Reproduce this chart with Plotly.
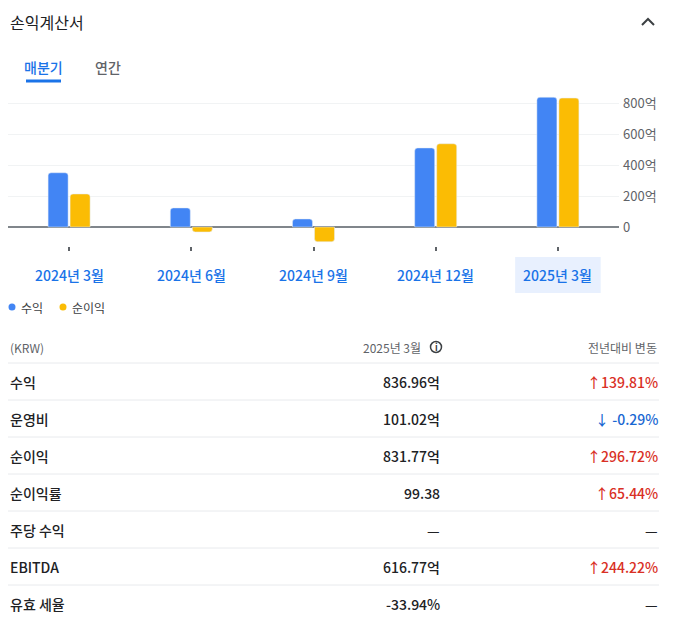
import plotly.graph_objects as go

# the page body keeps its default 8px margin, so the figure starts at (8, 8)
OFF = 8
W, H = 673 - OFF, 635 - OFF

# chart data (단위: 억)
periods = ["2024년 3월", "2024년 6월", "2024년 9월", "2024년 12월", "2025년 3월"]
revenue = [350, 123, 52, 510, 836.96]
net_income = [213, -32, -95, 537, 831.77]
y_ticks = [0, 200, 400, 600, 800]
y_tick_text = ["0", "200억", "400억", "600억", "800억"]

# table data
row_labels = ["수익", "운영비", "순이익", "순이익률", "주당 수익", "EBITDA", "유효 세율"]
row_values = ["836.96억", "101.02억", "831.77억", "99.38", "—", "616.77억", "-33.94%"]
row_changes = ["139.81%", "-0.29%", "296.72%", "65.44%", "—", "244.22%", "—"]
row_dirs = ["up", "down", "up", "up", None, "up", None]

BLUE = "#4285f4"
YELLOW = "#fbbc04"
LINK = "#1a73e8"
DARK = "#202124"
GREY = "#5f6368"
RED = "#d93025"
FONT = "Noto Sans CJK KR, Roboto, sans-serif"


# screen pixel -> paper fraction
def fx(px):
    return max(0.0, (px - OFF) / W)


def fy(py):
    return 1 - (py - OFF) / H


fig = go.Figure()
fig.add_trace(go.Bar(x=periods, y=revenue, name="수익",
                     marker=dict(color=BLUE, cornerradius=3)))
fig.add_trace(go.Bar(x=periods, y=net_income, name="순이익",
                     marker=dict(color=YELLOW, cornerradius=3)))

fig.update_layout(
    width=W, height=H,
    margin=dict(l=0, r=0, t=0, b=0),
    paper_bgcolor="white", plot_bgcolor="white",
    font=dict(family=FONT, color=DARK),
    barmode="group", bargap=0.64, bargroupgap=0.09,
    showlegend=False,
)
fig.update_xaxes(
    type="category", range=[-0.5, 4.5], domain=[fx(8), fx(619)],
    showgrid=False, showline=False, zeroline=False,
    ticks="outside", ticklen=4, tickwidth=1.5, tickcolor=GREY,
    showticklabels=False, automargin=False,
)
fig.update_yaxes(
    side="right", domain=[fy(246), fy(95)], range=[-122.6, 851.6],
    tickvals=y_ticks, ticktext=y_tick_text,
    tickfont=dict(size=13, color=GREY), ticklabelstandoff=3,
    showgrid=True, gridcolor="#f1f3f4", gridwidth=1,
    zeroline=True, zerolinecolor="#80868b", zerolinewidth=2,
    showline=False, automargin=False,
)

shapes = []
annotations = []

# card border on the right
shapes.append(dict(type="line", xref="paper", yref="paper",
                   x0=fx(668), x1=fx(668), y0=0, y1=1,
                   line=dict(color="#dadce0", width=1)))

# header
annotations.append(dict(text="손익계산서", x=fx(8), y=fy(22), xanchor="left",
                        font=dict(size=16, color=DARK)))
shapes.append(dict(type="path", xref="paper", yref="paper",
                   path=f"M {fx(642)},{fy(25)} L {fx(648)},{fy(19)} L {fx(654)},{fy(25)}",
                   line=dict(color="#3c4043", width=2)))

# tabs
annotations.append(dict(text="매분기", x=fx(43), y=fy(67), xanchor="center",
                        font=dict(size=14, color=LINK, weight=500)))
annotations.append(dict(text="연간", x=fx(108), y=fy(67), xanchor="center",
                        font=dict(size=14, color=GREY, weight=500)))
shapes.append(dict(type="rect", xref="paper", yref="paper",
                   x0=fx(26), x1=fx(61), y0=fy(82.5), y1=fy(79.5),
                   fillcolor=LINK, line=dict(width=0)))

# selected period highlight + period labels
shapes.append(dict(type="rect", xref="x", yref="paper",
                   x0=4 - 0.35, x1=4 + 0.35, y0=fy(293), y1=fy(257),
                   fillcolor="#e8f0fe", line=dict(width=0), layer="below"))
for p in periods:
    annotations.append(dict(text=p, x=p, xref="x", y=fy(275), xanchor="center",
                            font=dict(size=14, color=LINK, weight=500)))

# legend
for cx, col, name in [(12, BLUE, "수익"), (63, YELLOW, "순이익")]:
    shapes.append(dict(type="circle", xref="paper", yref="paper",
                       x0=fx(cx - 3.5), x1=fx(cx + 3.5), y0=fy(310.5), y1=fy(303.5),
                       fillcolor=col, line=dict(width=0)))
    annotations.append(dict(text=name, x=fx(cx + 7), y=fy(307), xanchor="left",
                            font=dict(size=12, color="#3c4043")))

# table header
annotations.append(dict(text="(KRW)", x=fx(8), y=fy(347), xanchor="left",
                        font=dict(size=12, color=GREY)))
annotations.append(dict(text="2025년 3월", x=fx(423), y=fy(347), xanchor="right",
                        font=dict(size=12, color=GREY)))
shapes.append(dict(type="circle", xref="paper", yref="paper",
                   x0=fx(430.5), x1=fx(441.5), y0=fy(352.5), y1=fy(341.5),
                   line=dict(color="#3c4043", width=1.5)))
annotations.append(dict(text="<b>i</b>", x=fx(436), y=fy(347.5), xanchor="center",
                        font=dict(size=9, color="#3c4043")))
annotations.append(dict(text="전년대비 변동", x=fx(659), y=fy(347), xanchor="right",
                        font=dict(size=12, color=GREY)))

# table rows
for i, (lab, val, chg, d) in enumerate(zip(row_labels, row_values, row_changes, row_dirs)):
    top = 363 + 37 * i
    shapes.append(dict(type="line", xref="paper", yref="paper",
                       x0=fx(8), x1=fx(659), y0=fy(top), y1=fy(top),
                       line=dict(color="#e8eaed", width=1)))
    cy = top + 18.5
    annotations.append(dict(text=lab, x=fx(8), y=fy(cy), xanchor="left",
                            font=dict(size=14, color=DARK, weight=500)))
    annotations.append(dict(text=val, x=fx(442), y=fy(cy), xanchor="right",
                            font=dict(size=14, color=DARK, weight=500)))
    if d == "up":
        txt, col = "↑" + chg, RED
    elif d == "down":
        txt, col = "↓ " + chg, "#1967d2"
    else:
        txt, col = chg, DARK
    annotations.append(dict(text=txt, x=fx(660), y=fy(cy), xanchor="right",
                            font=dict(size=14, color=col, weight=500)))

for a in annotations:
    a.setdefault("xref", "paper")
    a.setdefault("yref", "paper")
    a["yanchor"] = "middle"
    a["showarrow"] = False

fig.update_layout(shapes=shapes, annotations=annotations)
fig.write_html("out.html")
